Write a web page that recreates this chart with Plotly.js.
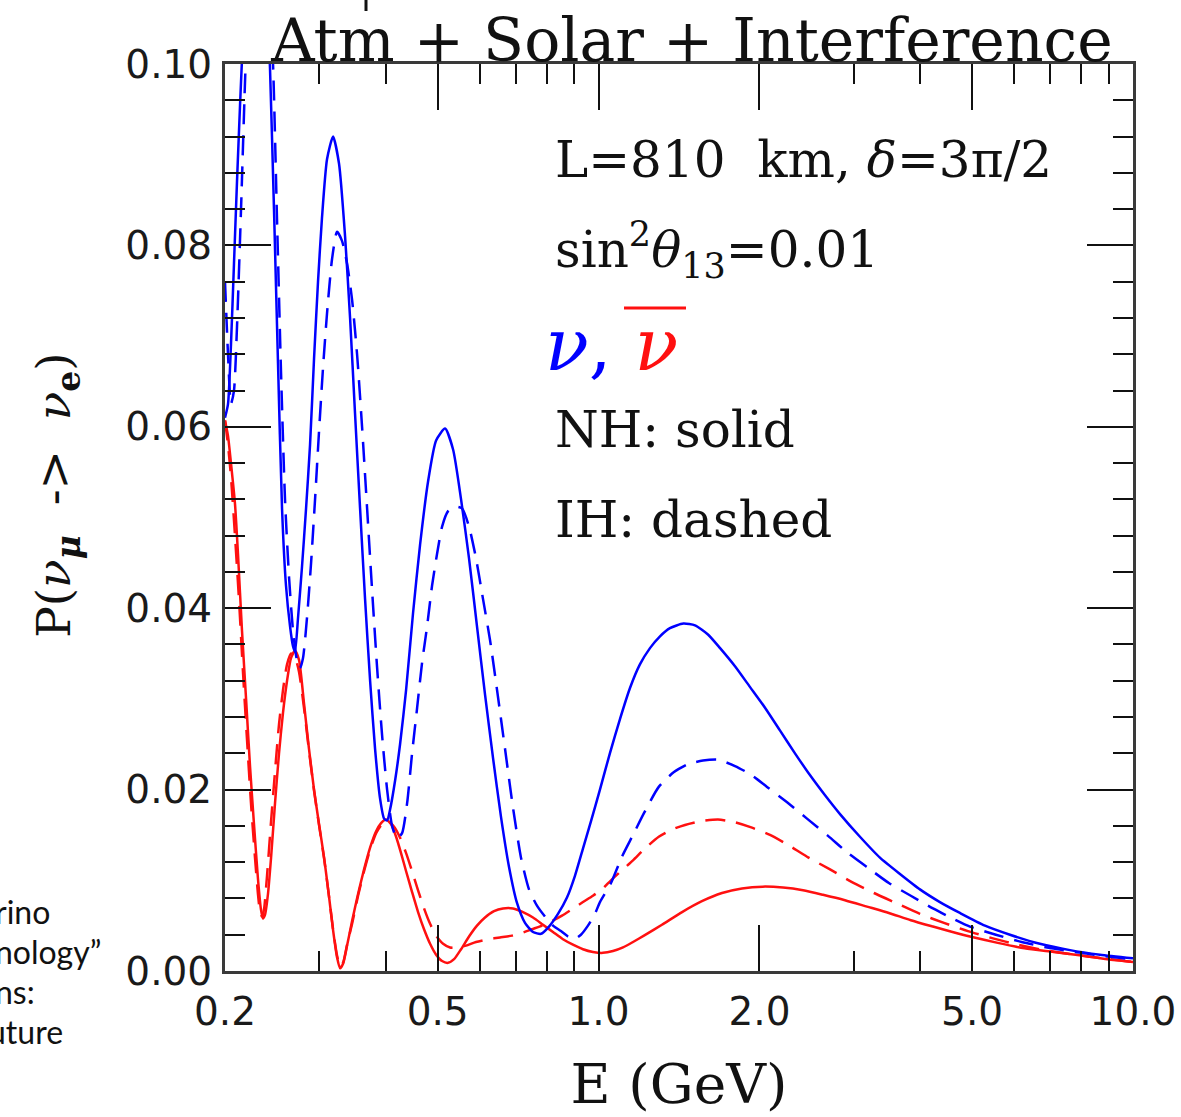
<!DOCTYPE html>
<html>
<head>
<meta charset="utf-8">
<script src="https://cdn.plot.ly/plotly-3.0.1.min.js"></script>
<style>html,body{margin:0;padding:0;background:#fff;}#chart{width:1181px;height:1117px;}</style>
</head>
<body>
<div id="chart"></div>
<script>
// ---- Data ----
// Energy E (GeV) and probability P for each curve
var nuNH_E = [0.2000,0.2026,0.2052,0.2079,0.2106,0.2134,0.2161,0.2208,0.2257,0.2305,0.2355,0.2397,0.2428,0.2470,0.2513,0.2557,0.2601,0.2647,0.2681,0.2704,0.2740,0.2787,0.2836,0.2885,0.2935,0.2986,0.3037,0.3104,0.3186,0.3269,0.3355,0.3428,0.3502,0.3579,0.3657,0.3737,0.3818,0.3901,0.3969,0.4021,0.4073,0.4162,0.4252,0.4364,0.4497,0.4635,0.4798,0.4966,0.5162,0.5343,0.5530,0.5723,0.5923,0.6131,0.6346,0.6568,0.6798,0.7037,0.7284,0.7539,0.7803,0.8077,0.8396,0.8728,0.9033,0.9350,0.9677,1.006,1.050,1.097,1.145,1.195,1.248,1.303,1.360,1.441,1.515,1.602,1.688,1.800,1.921,2.050,2.186,2.331,2.486,2.651,2.830,3.084,3.361,3.664,3.993,4.352,4.744,5.285,5.886,6.695,7.623,8.670,10.0];
var nuNH_P = [0.061,0.0625,0.069,0.078,0.087,0.0955,0.103,0.116,0.125,0.128,0.120,0.108,0.0995,0.084,0.067,0.051,0.0425,0.038,0.0358,0.0352,0.039,0.0446,0.051,0.058,0.0675,0.076,0.083,0.0895,0.092,0.089,0.081,0.072,0.0615,0.051,0.041,0.032,0.0245,0.019,0.0168,0.0166,0.0178,0.021,0.025,0.031,0.0395,0.047,0.054,0.0585,0.0598,0.0575,0.052,0.0455,0.038,0.0305,0.0235,0.017,0.0115,0.0075,0.0053,0.0043,0.0041,0.0049,0.0063,0.0081,0.0105,0.0135,0.0165,0.0200,0.024,0.0278,0.0312,0.0338,0.0356,0.0369,0.0378,0.0383,0.0381,0.0371,0.0356,0.0336,0.0313,0.0290,0.0265,0.0240,0.0216,0.0194,0.0173,0.0148,0.0125,0.0107,0.0090,0.0076,0.0064,0.0050,0.0040,0.0030,0.0023,0.0018,0.0014];

var nuIH_E = [0.2000,0.2026,0.2052,0.2079,0.2106,0.2143,0.2180,0.2218,0.2276,0.2335,0.2386,0.2428,0.2460,0.2502,0.2546,0.2590,0.2635,0.2681,0.2728,0.2763,0.2799,0.2848,0.2898,0.2948,0.2999,0.3051,0.3104,0.3172,0.3241,0.3311,0.3384,0.3458,0.3533,0.3610,0.3689,0.3769,0.3851,0.3935,0.4021,0.4108,0.4198,0.4289,0.4383,0.4478,0.4576,0.4675,0.4777,0.4881,0.4987,0.5096,0.5229,0.5389,0.5553,0.5723,0.5898,0.6079,0.6265,0.6457,0.6683,0.6917,0.7159,0.7410,0.7669,0.7939,0.8217,0.8504,0.8765,0.8994,0.9269,0.9554,0.9846,1.006,1.055,1.106,1.160,1.216,1.296,1.382,1.470,1.568,1.673,1.800,1.921,2.066,2.253,2.455,2.688,2.929,3.205,3.493,3.839,4.223,4.595,4.953,5.538,6.190,7.041,8.009,8.957,10.0];
var nuIH_P = [0.076,0.068,0.0625,0.064,0.071,0.084,0.098,0.110,0.121,0.123,0.115,0.106,0.0999,0.083,0.066,0.052,0.0435,0.0375,0.0342,0.0334,0.0345,0.039,0.045,0.052,0.0595,0.0665,0.0725,0.0785,0.0815,0.0805,0.078,0.074,0.068,0.060,0.051,0.042,0.0335,0.026,0.020,0.016,0.0146,0.0152,0.0185,0.024,0.029,0.034,0.038,0.0425,0.046,0.049,0.0507,0.0512,0.051,0.049,0.0455,0.041,0.0365,0.031,0.0245,0.018,0.0125,0.009,0.0072,0.006,0.005,0.0044,0.0038,0.0035,0.0040,0.0050,0.0063,0.0076,0.0097,0.0126,0.0150,0.0174,0.0203,0.0219,0.0228,0.0232,0.0233,0.0226,0.0217,0.0203,0.0186,0.0168,0.0149,0.0130,0.0113,0.0097,0.0083,0.0069,0.0058,0.0049,0.0040,0.0032,0.0025,0.0020,0.0016,0.0013];

var nubarNH_E = [0.2000,0.2026,0.2052,0.2088,0.2115,0.2152,0.2190,0.2228,0.2266,0.2305,0.2335,0.2355,0.2376,0.2407,0.2439,0.2481,0.2524,0.2568,0.2613,0.2658,0.2704,0.2751,0.2811,0.2872,0.2935,0.2999,0.3065,0.3131,0.3186,0.3241,0.3283,0.3326,0.3384,0.3458,0.3548,0.3641,0.3737,0.3835,0.3918,0.4003,0.4090,0.4180,0.4270,0.4364,0.4478,0.4595,0.4715,0.4839,0.4966,0.5096,0.5229,0.5366,0.5530,0.5723,0.5923,0.6131,0.6374,0.6625,0.6917,0.7221,0.7539,0.7871,0.8217,0.8579,0.8956,0.9350,0.9761,1.019,1.064,1.111,1.160,1.216,1.314,1.433,1.561,1.702,1.855,2.028,2.214,2.413,2.630,2.891,3.179,3.493,3.839,4.223,4.595,4.953,5.585,6.270,7.103,8.009,8.957,10.0];
var nubarNH_P = [0.0607,0.059,0.056,0.0515,0.046,0.0375,0.030,0.0225,0.0162,0.0102,0.0068,0.0058,0.0062,0.0085,0.0125,0.0185,0.024,0.0285,0.032,0.0345,0.0353,0.0343,0.0295,0.0245,0.0200,0.0162,0.0125,0.0082,0.0045,0.0015,0.0003,0.0008,0.0028,0.0055,0.0085,0.0112,0.0136,0.0154,0.0163,0.0167,0.0162,0.0148,0.0130,0.0110,0.0087,0.0065,0.0046,0.0030,0.0018,0.0011,0.0009,0.0013,0.0024,0.0038,0.0050,0.0059,0.0066,0.0069,0.0069,0.0065,0.0059,0.0051,0.0043,0.0035,0.0029,0.0024,0.0021,0.0020,0.0022,0.0026,0.0032,0.0039,0.0051,0.0065,0.0077,0.0086,0.0091,0.0093,0.0092,0.0089,0.0084,0.0078,0.0071,0.0064,0.0056,0.0049,0.0043,0.0038,0.0031,0.0025,0.0021,0.0017,0.0013,0.0010];

var nubarIH_E = [0.2000,0.2026,0.2052,0.2088,0.2124,0.2161,0.2199,0.2237,0.2276,0.2305,0.2325,0.2345,0.2366,0.2397,0.2439,0.2481,0.2524,0.2568,0.2613,0.2658,0.2704,0.2751,0.2811,0.2872,0.2935,0.2999,0.3065,0.3131,0.3186,0.3241,0.3283,0.3326,0.3384,0.3458,0.3548,0.3641,0.3737,0.3835,0.3935,0.4038,0.4144,0.4252,0.4364,0.4478,0.4595,0.4715,0.4839,0.4966,0.5118,0.5274,0.5458,0.5649,0.5898,0.6211,0.6540,0.6887,0.7190,0.7506,0.7837,0.8181,0.8542,0.8918,0.9350,0.9761,1.019,1.055,1.106,1.160,1.221,1.296,1.372,1.451,1.548,1.673,1.800,1.937,2.093,2.262,2.455,2.711,2.980,3.276,3.601,3.993,4.428,4.910,5.471,6.092,6.815,8.239,10.0];
var nubarIH_P = [0.0607,0.058,0.0545,0.048,0.041,0.033,0.0255,0.0185,0.0125,0.0085,0.0066,0.0060,0.0068,0.0105,0.0165,0.022,0.0272,0.031,0.0338,0.0350,0.0346,0.0330,0.0290,0.0243,0.0199,0.0161,0.0124,0.0082,0.0046,0.0017,0.0005,0.0009,0.0029,0.0052,0.0083,0.0110,0.0134,0.0152,0.0162,0.0165,0.0159,0.0147,0.0130,0.0110,0.0089,0.0069,0.0052,0.0039,0.0030,0.0026,0.0026,0.0028,0.0032,0.0035,0.0037,0.0039,0.0042,0.0046,0.0050,0.0055,0.0061,0.0068,0.0076,0.0083,0.0091,0.0100,0.0111,0.0122,0.0135,0.0148,0.0156,0.0161,0.0165,0.0167,0.0164,0.0158,0.0150,0.0139,0.0126,0.0112,0.0098,0.0086,0.0075,0.0063,0.0053,0.0044,0.0036,0.0029,0.0023,0.0016,0.0010];

// Tick labels
var xTickVals = [0.2, 0.5, 1, 2, 5, 10];
var xTickText = ['0.2', '0.5', '1.0', '2.0', '5.0', '10.0'];
var xMinorVals = [0.3, 0.4, 0.6, 0.7, 0.8, 0.9, 3, 4, 6, 7, 8, 9];
var yTickVals = [0, 0.02, 0.04, 0.06, 0.08, 0.10];
var yTickText = ['0.00', '0.02', '0.04', '0.06', '0.08', '0.10'];

var BLUE = '#0000ff', RED = '#ff1010';
var LW = 2.5;
var DASH = '20px,11px';

function tr(x, y, color, dash, name) {
  return {x: x, y: y, type: 'scatter', mode: 'lines', name: name,
    line: {color: color, width: LW, dash: dash, shape: 'spline', smoothing: 0.6},
    hoverinfo: 'skip'};
}

var data = [
  tr(nubarIH_E, nubarIH_P, RED, DASH, 'antineutrino IH'),
  tr(nubarNH_E, nubarNH_P, RED, 'solid', 'antineutrino NH'),
  tr(nuIH_E, nuIH_P, BLUE, DASH, 'neutrino IH'),
  tr(nuNH_E, nuNH_P, BLUE, 'solid', 'neutrino NH')
];

var serif = 'DejaVu Serif, Liberation Serif, serif';
var sans = 'DejaVu Sans, Liberation Sans, sans-serif';
function px(xp) { return (xp - 225) / 908; }
function py(yp) { return (971 - yp) / 907; }

var axisCommon = {
  showline: true, linecolor: '#3a3a3a', linewidth: 3, mirror: 'ticks',
  ticks: 'inside', ticklen: 46, tickwidth: 2, tickcolor: '#111',
  showgrid: false, zeroline: false,
  tickfont: {family: sans, size: 39, color: '#1a1a1a'}
};

var layout = {
  width: 1181, height: 1117,
  margin: {l: 225, r: 48, t: 64, b: 146, pad: 0},
  paper_bgcolor: '#fff', plot_bgcolor: '#fff',
  showlegend: false,
  title: {text: 'Atm + Solar + Interference', font: {family: serif, size: 60, color: '#111'},
          x: 692 / 1181, xref: 'container', xanchor: 'center', y: 1 - 40 / 1117, yref: 'container', yanchor: 'middle'},
  xaxis: Object.assign({}, axisCommon, {
    type: 'log', range: [Math.log10(0.2), 1],
    tickmode: 'array', tickvals: xTickVals, ticktext: xTickText,
    ticklabelstandoff: 4,
    minor: {tickmode: 'array', tickvals: xMinorVals, ticks: 'inside', ticklen: 20, tickwidth: 2, tickcolor: '#111', showgrid: false},
    title: {text: 'E (GeV)', font: {family: serif, size: 55, color: '#111'}, standoff: 32}
  }),
  yaxis: Object.assign({}, axisCommon, {
    range: [0, 0.1],
    tickmode: 'array', tickvals: yTickVals, ticktext: yTickText,
    ticklabelstandoff: 2,
    minor: {dtick: 0.004, ticks: 'inside', ticklen: 20, tickwidth: 2, tickcolor: '#111', showgrid: false},
    title: {text: '&nbsp;&nbsp;&nbsp;P(<i>ν</i><sub><i><b>μ</b></i></sub>&nbsp;&nbsp;-&gt;&nbsp;&nbsp;<i>ν</i><sub><b>e</b></sub>)', font: {family: serif, size: 47, color: '#111'}, standoff: 40}
  }),
  annotations: [
    {xref: 'paper', yref: 'paper', x: px(553), y: py(160), xanchor: 'left', yanchor: 'middle', showarrow: false,
     text: 'L=810&nbsp; km, <i>δ</i>=3π/2', font: {family: serif, size: 50, color: '#111'}},
    {xref: 'paper', yref: 'paper', x: px(553), y: py(250), xanchor: 'left', yanchor: 'middle', showarrow: false,
     text: 'sin<sup>2</sup><i>θ</i><sub>13</sub>=0.01', font: {family: serif, size: 50, color: '#111'}},
    {xref: 'paper', yref: 'paper', x: px(543), y: py(345), xanchor: 'left', yanchor: 'middle', showarrow: false,
     text: '<span style="color:#0000ff"><i>ν</i>,</span> <span style="color:#ff1010"><i>ν</i></span>', font: {family: serif, size: 72, color: '#0000ff'}},
    {xref: 'paper', yref: 'paper', x: px(553), y: py(430), xanchor: 'left', yanchor: 'middle', showarrow: false,
     text: 'NH: solid', font: {family: serif, size: 50, color: '#111'}},
    {xref: 'paper', yref: 'paper', x: px(553), y: py(520), xanchor: 'left', yanchor: 'middle', showarrow: false,
     text: 'IH: dashed', font: {family: serif, size: 50, color: '#111'}},
    {xref: 'paper', yref: 'paper', x: px(52), y: py(933), xanchor: 'right', yanchor: 'bottom', showarrow: false,
     text: 'rino', font: {family: 'Lato, sans-serif', size: 32, color: '#111'}},
    {xref: 'paper', yref: 'paper', x: px(103), y: py(973), xanchor: 'right', yanchor: 'bottom', showarrow: false,
     text: 'nology”', font: {family: 'Lato, sans-serif', size: 32, color: '#111'}},
    {xref: 'paper', yref: 'paper', x: px(37), y: py(1013), xanchor: 'right', yanchor: 'bottom', showarrow: false,
     text: 'ns:', font: {family: 'Lato, sans-serif', size: 32, color: '#111'}},
    {xref: 'paper', yref: 'paper', x: px(65), y: py(1053), xanchor: 'right', yanchor: 'bottom', showarrow: false,
     text: 'uture', font: {family: 'Lato, sans-serif', size: 32, color: '#111'}}
  ],
  shapes: [
    // overline of the antineutrino symbol
    {type: 'line', xref: 'paper', yref: 'paper', x0: px(624), x1: px(686), y0: py(308), y1: py(308), line: {color: '#ff1010', width: 3}},
    // clipped descender at the very top of the picture
    {type: 'line', xref: 'paper', yref: 'paper', x0: px(366), x1: px(366), y0: py(0), y1: py(11), line: {color: '#111', width: 3}}
  ]
};

Plotly.newPlot('chart', data, layout, {displayModeBar: false, staticPlot: true});
</script>
</body>
</html>
